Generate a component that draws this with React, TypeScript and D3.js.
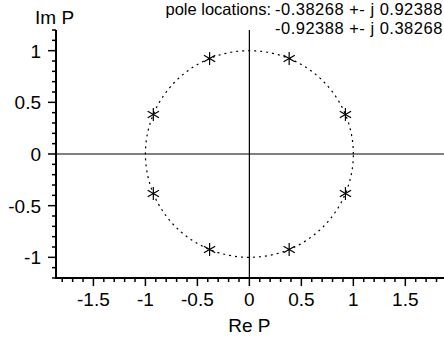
import React from "react";
import * as d3 from "d3";

const poleRe: number[] = [0.38268, 0.92388, 0.92388, 0.38268, -0.38268, -0.92388, -0.92388, -0.38268];
const poleIm: number[] = [0.92388, 0.38268, -0.38268, -0.92388, -0.92388, -0.38268, 0.38268, 0.92388];
const xTickValues: number[] = [-1.5, -1, -0.5, 0, 0.5, 1, 1.5];
const yTickValues: number[] = [-1, -0.5, 0, 0.5, 1];
const poleText: string[] = ["pole locations:", "-0.38268 +- j 0.92388", "-0.92388 +- j 0.38268"];

const W = 444;
const H = 341;
const FONT = "'Liberation Sans', Arial, Helvetica, sans-serif";

export default function App() {
  const x = d3.scaleLinear().domain([-1.86, 1.872]).range([56, 444]);
  const y = d3.scaleLinear().domain([-1.2, 1.2]).range([278, 30]);
  const xMinor = d3.range(-18, 19).map((i) => i / 10);
  const yMinor = d3.range(-12, 13).map((i) => i / 10);
  const isMajor = (v: number) => Math.abs(v * 2 - Math.round(v * 2)) < 1e-6;

  const circle = d3
    .line<number>()
    .x((t) => x(Math.cos(t)))
    .y((t) => y(Math.sin(t)));
  const ts = d3.range(0, 361).map((d) => (d * Math.PI) / 180);

  const fmt = (v: number) => (v === 0 ? "0" : String(v));
  const r = 6.5;
  const angles = [90, 30, -30].map((a) => (a * Math.PI) / 180);

  return (
    <svg width={W} height={H} style={{ position: "absolute", left: 0, top: 0, background: "#fff" }}>
      {/* unit circle */}
      <path d={circle(ts) || ""} fill="none" stroke="#000" strokeWidth={1.2} strokeDasharray="2,4" />
      {/* zero lines */}
      <line x1={x.range()[0]} x2={x.range()[1]} y1={y(0)} y2={y(0)} stroke="#000" strokeWidth={1.2} />
      <line x1={x(0)} x2={x(0)} y1={y.range()[0]} y2={y.range()[1]} stroke="#000" strokeWidth={1.2} />
      {/* poles */}
      {poleRe.map((re, i) => {
        const cx = x(re);
        const cy = y(poleIm[i]);
        return (
          <g key={i}>
            {angles.map((a, j) => (
              <line
                key={j}
                x1={cx - r * Math.cos(a)}
                x2={cx + r * Math.cos(a)}
                y1={cy + r * Math.sin(a)}
                y2={cy - r * Math.sin(a)}
                stroke="#000"
                strokeWidth={1.2}
              />
            ))}
          </g>
        );
      })}
      {/* axes */}
      <line x1={x.range()[0]} x2={x.range()[1]} y1={y.range()[0]} y2={y.range()[0]} stroke="#000" strokeWidth={2} />
      <line x1={x.range()[0]} x2={x.range()[0]} y1={y.range()[0] + 1} y2={y.range()[1]} stroke="#000" strokeWidth={2} />
      {xMinor.map((v, i) => (
        <line
          key={"xt" + i}
          x1={x(v)}
          x2={x(v)}
          y1={y.range()[0]}
          y2={y.range()[0] + (isMajor(v) ? 8 : 4)}
          stroke="#000"
          strokeWidth={1.5}
        />
      ))}
      {yMinor.map((v, i) => (
        <line
          key={"yt" + i}
          x1={x.range()[0]}
          x2={x.range()[0] - (isMajor(v) ? 8 : 4)}
          y1={y(v)}
          y2={y(v)}
          stroke="#000"
          strokeWidth={1.5}
        />
      ))}
      {xTickValues.map((v, i) => (
        <text key={"xl" + i} x={x(v)} y={306} textAnchor="middle" fontFamily={FONT} fontSize={19} fill="#000">
          {fmt(v)}
        </text>
      ))}
      {yTickValues.map((v, i) => (
        <text key={"yl" + i} x={41} y={y(v) + 7} textAnchor="end" fontFamily={FONT} fontSize={19} fill="#000">
          {fmt(v)}
        </text>
      ))}
      <text x={x(0)} y={332} textAnchor="middle" fontFamily={FONT} fontSize={19} fill="#000">
        Re P
      </text>
      <text x={35} y={24} fontFamily={FONT} fontSize={19} fill="#000">
        Im P
      </text>
      <text x={271} y={15} textAnchor="end" fontFamily={FONT} fontSize={16.5} fill="#000">
        {poleText[0]}
      </text>
      <text x={275} y={15} fontFamily={FONT} fontSize={16.5} letterSpacing={0.5} fill="#000">
        {poleText[1]}
      </text>
      <text x={275} y={34} fontFamily={FONT} fontSize={16.5} letterSpacing={0.5} fill="#000">
        {poleText[2]}
      </text>
    </svg>
  );
}
